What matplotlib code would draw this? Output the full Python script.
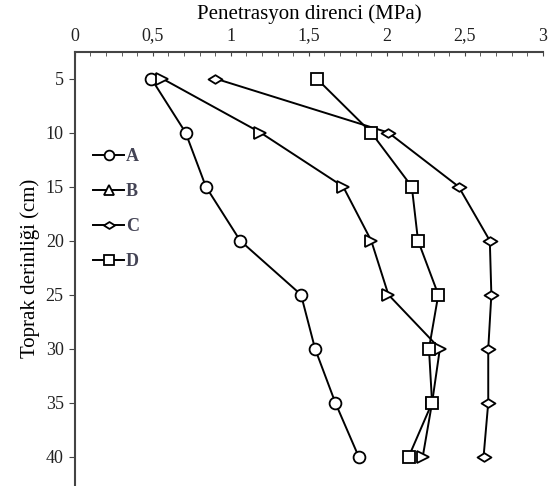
import matplotlib
matplotlib.use("Agg")
import matplotlib.pyplot as plt
from matplotlib.lines import Line2D
from matplotlib.path import Path
from matplotlib.ticker import MultipleLocator
import numpy as np

depth = [5, 10, 15, 20, 25, 30, 35, 40]
A = [0.49, 0.71, 0.84, 1.06, 1.45, 1.54, 1.67, 1.82]
B = [0.56, 1.19, 1.72, 1.90, 2.01, 2.34, 2.29, 2.23]
C = [0.90, 2.01, 2.46, 2.66, 2.67, 2.65, 2.65, 2.62]
D = [1.55, 1.90, 2.16, 2.20, 2.33, 2.27, 2.29, 2.14]
names = ["A", "B", "C", "D"]
xticks = [0, 0.5, 1, 1.5, 2, 2.5, 3]
xticklabels = ["0", "0,5", "1", "1,5", "2", "2,5", "3"]
yticks = [5, 10, 15, 20, 25, 30, 35, 40]

plt.rcParams['font.family'] = ['Liberation Serif', 'DejaVu Serif']

# flat diamond marker
flat_d = Path([(-1, 0), (0, 0.62), (1, 0), (0, -0.62), (-1, 0)],
              [Path.MOVETO, Path.LINETO, Path.LINETO, Path.LINETO, Path.CLOSEPOLY])

fig = plt.figure(figsize=(5.5, 4.86), dpi=100)
ax = fig.add_axes([0.136, 0.0, 0.851, 0.894])

styles = [("o", 8.5), (">", 9), (flat_d, 10), ("s", 8.5)]
for vals, (m, ms) in zip([A, B, C, D], styles):
    ax.plot(vals, depth, color="black", lw=1.4, marker=m, ms=ms,
            mfc="white", mec="black", mew=1.3)

ax.set_xlim(0, 3)
ax.set_ylim(42.7, 2.5)
ax.xaxis.tick_top()
ax.xaxis.set_label_position("top")
ax.set_xticks(xticks)
ax.set_xticklabels(xticklabels)
ax.xaxis.set_minor_locator(MultipleLocator(0.1))
ax.tick_params(axis="x", which="both", direction="in", length=3, colors="#444444",
               labelsize=13, labelcolor="#222222", pad=5)
ax.set_yticks(yticks)
ax.tick_params(axis="y", direction="out", length=4, colors="#444444",
               labelsize=13, labelcolor="#222222", pad=4)
ax.set_xlabel("Penetrasyon direnci (MPa)", fontsize=15, labelpad=6)
ax.set_ylabel("Toprak derinliği (cm)", fontsize=15, labelpad=4)
for s in ["right", "bottom"]:
    ax.spines[s].set_visible(False)
for s in ["left", "top"]:
    ax.spines[s].set_color("#444444")
    ax.spines[s].set_linewidth(1.5)

leg_markers = [("o", 7), ("^", 7), (flat_d, 8), ("s", 7)]
handles = [Line2D([0], [0], color="black", lw=1.4, marker=m, ms=ms,
                  mfc="white", mec="black", mew=1.3) for m, ms in leg_markers]
leg = ax.legend(handles, names, loc="upper left", bbox_to_anchor=(0.005, 0.815),
                frameon=False, handlelength=1.7, handletextpad=0.1,
                labelspacing=1.0, prop={"family": "Liberation Serif", "weight": "bold", "size": 13})
for t in leg.get_texts():
    t.set_color("#444455")

fig.savefig("out.png", dpi=100)
